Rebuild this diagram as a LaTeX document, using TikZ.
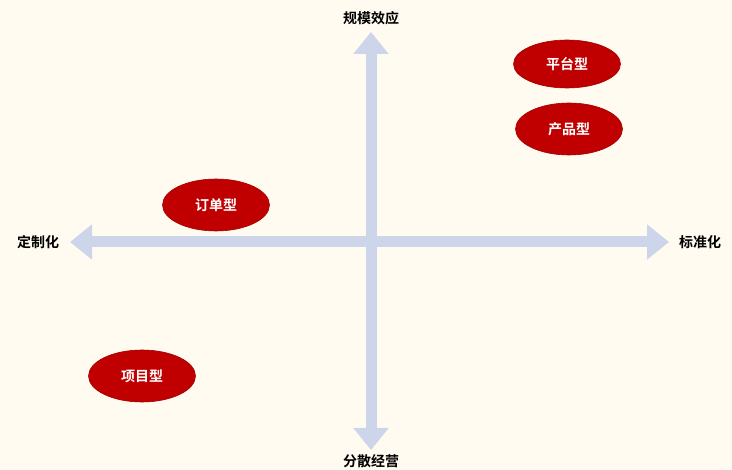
\documentclass[tikz,border=0pt]{standalone}
\usepackage{fontspec}
\newfontfamily\cjk{Noto Sans CJK SC}[BoldFont={Noto Sans CJK SC Bold}]
\usetikzlibrary{arrows.meta,shapes.geometric}
\definecolor{bgc}{HTML}{FFFBF0}
\definecolor{axc}{HTML}{CDD5EA}
\definecolor{redc}{HTML}{C00000}
\tikzset{
  axis/.style={draw=axc,line width=11pt,arrows={Triangle[width=34pt,length=22pt]-Triangle[width=34pt,length=22pt]}},
  axlabel/.style={font=\cjk\bfseries\fontsize{14pt}{16pt}\selectfont,text=black,inner sep=0pt},
  oval/.style={ellipse,fill=redc,draw=redc!85!black,line width=0.6pt,minimum width=107pt,minimum height=50pt,inner sep=0pt,font=\cjk\bfseries\fontsize{14pt}{16pt}\selectfont,text=white}
}
\begin{document}
\begin{tikzpicture}[x=1pt,y=-1pt]
\fill[bgc] (0,0) rectangle (732,470);
\useasboundingbox (0,0) rectangle (732,470);
\coordinate (L) at (70,242);
\coordinate (R) at (669,242);
\coordinate (T) at (371,32);
\coordinate (B) at (371,450);
\draw[axis] (L) -- (R);
\draw[axis] (B) -- (T);
\node[axlabel] (top) at (371,18) {规模效应};
\node[axlabel] (bot) at (371,461) {分散经营};
\node[axlabel] (left) at (38,242) {定制化};
\node[axlabel] (right) at (700,242) {标准化};
\node[oval,minimum height=48pt] (pt) at (567,64) {平台型};
\node[oval,minimum height=52pt] (cp) at (569,129) {产品型};
\node[oval,minimum height=52pt] (dd) at (216,205) {订单型};
\node[oval,minimum height=52pt] (xm) at (142,376) {项目型};
\end{tikzpicture}
\end{document}
